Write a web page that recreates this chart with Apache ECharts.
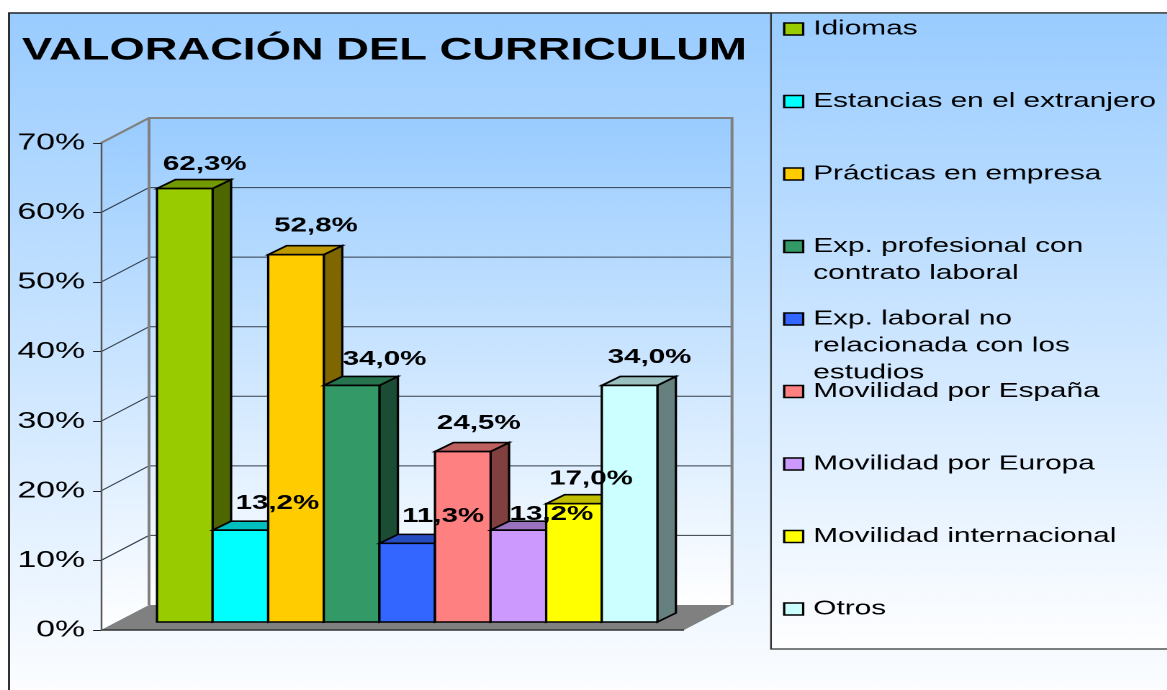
<!DOCTYPE html>
<html>
<head>
<meta charset="utf-8">
<title>Valoración del curriculum</title>
<script src="https://cdn.jsdelivr.net/npm/echarts@6/dist/echarts.min.js"></script>
<style>
  html, body { margin: 0; padding: 0; background: #fff; overflow: hidden; }
  /* the reference is a horizontally stretched picture, so the whole chart gets stretched */
  #chart { width: 811px; height: 690px; transform: scaleX(1.44); transform-origin: left top; }
</style>
</head>
<body>
<div id="chart"></div>
<script>
const categories = [
  'Idiomas',
  'Estancias en el extranjero',
  'Prácticas en empresa',
  'Exp. profesional con\ncontrato laboral',
  'Exp. laboral no\nrelacionada con los\nestudios',
  'Movilidad por España',
  'Movilidad por Europa',
  'Movilidad internacional',
  'Otros'
];
const values = [62.3, 13.2, 52.8, 34.0, 11.3, 24.5, 13.2, 17.0, 34.0];
const colors = ['#99CC00', '#00FFFF', '#FFCC00', '#339966', '#3366FF', '#FF8080', '#CC99FF', '#FFFF00', '#CCFFFF'];
const topColors = ['#739900', '#00BFBF', '#BF9900', '#26734D', '#264DBF', '#BF6060', '#9973BF', '#BFBF00', '#99BFBF'];
const sideColors = ['#4D6600', '#008080', '#806600', '#1A4D33', '#1A3380', '#804040', '#664D80', '#808000', '#668080'];
// label position from the top centre of each bar's front face, screen px
const labelShift = [[20, -24], [37, -27], [20, -29], [33, -26], [36, -27], [16, -28], [33, -16], [17, -25], [20, -28]];
const tickValues = [10, 20, 30, 40, 50, 60];

const SX = 1.44; // horizontal stretch
const LINE_H = 27;
const sky = (x) => new echarts.graphic.LinearGradient(0, 0, 0, 1, [
  { offset: 0, color: '#99CCFF' },
  { offset: 1, color: x }
]);

// depth of the box and of the bars, screen px
const WALL = [48 / SX, -25];
const BAR_SHIFT = [15.4 / SX, -8];
const BAR_DEPTH = [18.5 / SX, -9];
const X_MIN = -0.73, X_MAX = 9.756;

const chart = echarts.init(document.getElementById('chart'), null, { devicePixelRatio: 2 });

function renderBox(params, api) {
  const left = api.coord([X_MIN, 0])[0];
  const right = api.coord([X_MAX, 0])[0];
  const y0 = api.coord([X_MIN, 0])[1];
  const y70 = api.coord([X_MIN, 70])[1];
  const dx = WALL[0], dy = WALL[1];
  const children = [
    // side wall
    { type: 'polygon', shape: { points: [[left, y70], [left + dx, y70 + dy], [left + dx, y0 + dy], [left, y0]] },
      style: { fill: sky('#FFFFFF'), stroke: null } },
    // back wall
    { type: 'rect', shape: { x: left + dx, y: y70 + dy, width: right - left, height: y0 - y70 },
      style: { fill: sky('#FFFFFF'), stroke: null } },
    // floor
    { type: 'polygon', shape: { points: [[left, y0], [left + dx, y0 + dy], [right + dx, y0 + dy], [right, y0]] },
      style: { fill: '#808080', stroke: null } },
    { type: 'line', shape: { x1: left, y1: y0, x2: right, y2: y0 }, style: { stroke: '#333333', lineWidth: 1.5 } }
  ];
  tickValues.forEach((t) => {
    const y = api.coord([X_MIN, t])[1];
    children.push({ type: 'polyline', shape: { points: [[left, y], [left + dx, y + dy], [right + dx, y + dy]] },
      style: { fill: null, stroke: '#333d4a', lineWidth: 1 } });
  });
  // grey outline on top of the wall
  children.push({ type: 'polyline',
    shape: { points: [[left, y70], [left + dx, y70 + dy], [right + dx, y70 + dy], [right + dx, y0 + dy]] },
    style: { fill: null, stroke: '#808080', lineWidth: 2 } });
  children.push({ type: 'line', shape: { x1: left + dx, y1: y70 + dy, x2: left + dx, y2: y0 + dy },
    style: { stroke: '#808080', lineWidth: 2 } });
  return { type: 'group', children };
}

function renderBar(n) {
  return function (params, api) {
    const i = api.value(0);
    const p0 = api.coord([i, 0]);
    const p1 = api.coord([i + 1, api.value(1)]);
    const x0 = p0[0] + BAR_SHIFT[0], x1 = p1[0] + BAR_SHIFT[0];
    const yb = p0[1] + BAR_SHIFT[1], yt = p1[1] + BAR_SHIFT[1];
    const dx = BAR_DEPTH[0], dy = BAR_DEPTH[1];
    const line = { stroke: '#000', lineWidth: 1.6, lineJoin: 'miter' };
    return { type: 'group', children: [
      { type: 'polygon', shape: { points: [[x1, yb], [x1 + dx, yb + dy], [x1 + dx, yt + dy], [x1, yt]] },
        style: Object.assign({ fill: sideColors[n] }, line) },
      { type: 'polygon', shape: { points: [[x0, yt], [x0 + dx, yt + dy], [x1 + dx, yt + dy], [x1, yt]] },
        style: Object.assign({ fill: topColors[n] }, line) },
      { type: 'rect', shape: { x: x0, y: yt, width: x1 - x0, height: yb - yt },
        style: Object.assign({ fill: colors[n] }, line) }
    ] };
  };
}

const barSeries = categories.map((name, i) => ({
  name: name,
  type: 'custom',
  coordinateSystem: 'cartesian2d',
  z: 3,
  silent: true,
  clip: false,
  itemStyle: { color: colors[i] },
  encode: { x: 0, y: 1 },
  data: [[i, values[i]]],
  renderItem: renderBar(i)
}));

const legends = categories.map((name, i) => {
  const lines = name.split('\n').length;
  return {
    data: [name],
    selectedMode: false,
    orient: 'vertical',
    padding: 0,
    left: 783 / SX,
    top: 29 + 72.5 * i - (2 * lines - 1) * LINE_H / 2,
    icon: 'rect',
    itemWidth: 19 / SX,
    itemHeight: 12,
    itemGap: 0,
    itemStyle: { color: colors[i], borderColor: '#000', borderWidth: 1.6 },
    textStyle: { fontFamily: 'Liberation Sans', fontSize: 20.7, color: '#000', lineHeight: LINE_H, padding: [0, 0, 0, 2] },
    // blank lines above keep the first text line level with the swatch
    formatter: (n) => '\n'.repeat(lines - 1) + n
  };
});

chart.setOption({
  animation: false,
  backgroundColor: '#fff',
  graphic: [
    { type: 'rect', z: -5, shape: { x: 9 / SX, y: 13, width: 900, height: 700 },
      style: { fill: sky('#FFFFFF'), stroke: '#222', lineWidth: 1.4 } },
    { type: 'rect', z: -4, shape: { x: 771 / SX, y: 13, width: 400, height: 636 },
      style: { fill: sky('#FFFFFF'), stroke: '#333', lineWidth: 1.2 } }
  ],
  title: {
    text: 'VALORACIÓN DEL CURRICULUM',
    left: 22 / SX,
    top: 35,
    padding: 0,
    textStyle: { fontFamily: 'Liberation Sans', fontSize: 31.5, fontWeight: 'bold', color: '#000' }
  },
  legend: legends,
  grid: { left: 101 / SX, top: 143, width: 583 / SX, height: 487, containLabel: false },
  xAxis: { type: 'value', min: X_MIN, max: X_MAX, show: false },
  yAxis: {
    type: 'value',
    min: 0,
    max: 70,
    interval: 10,
    z: 2,
    axisLine: { show: true, onZero: false, lineStyle: { color: '#555', width: 1.2 } },
    axisTick: { show: true, length: 8 / SX, lineStyle: { color: '#222', width: 1 } },
    axisLabel: { margin: 11, fontFamily: 'Liberation Sans', fontSize: 23.5, color: '#000', formatter: '{value}%' },
    splitLine: { show: false }
  },
  series: [
    {
      name: 'box',
      type: 'custom',
      coordinateSystem: 'cartesian2d',
      z: 1,
      silent: true,
      clip: false,
      data: [[0, 0]],
      encode: { x: 0, y: 1 },
      renderItem: renderBox
    }
  ].concat(barSeries, [
    {
      name: 'labels',
      type: 'scatter',
      z: 6,
      silent: true,
      symbolSize: 0,
      clip: false,
      itemStyle: { opacity: 1 },
      data: values.map((v, i) => ({
        value: [i + 0.5, v],
        label: {
          show: true,
          position: 'top',
          distance: 0,
          align: 'center',
          verticalAlign: 'middle',
          offset: [BAR_SHIFT[0] + labelShift[i][0] / SX, BAR_SHIFT[1] + labelShift[i][1]],
          formatter: v.toFixed(1).replace('.', ',') + '%',
          fontFamily: 'Liberation Sans',
          fontSize: 20.5,
          fontWeight: 'bold',
          color: '#000',
          opacity: 1
        }
      }))
    }
  ])
});
</script>
</body>
</html>
